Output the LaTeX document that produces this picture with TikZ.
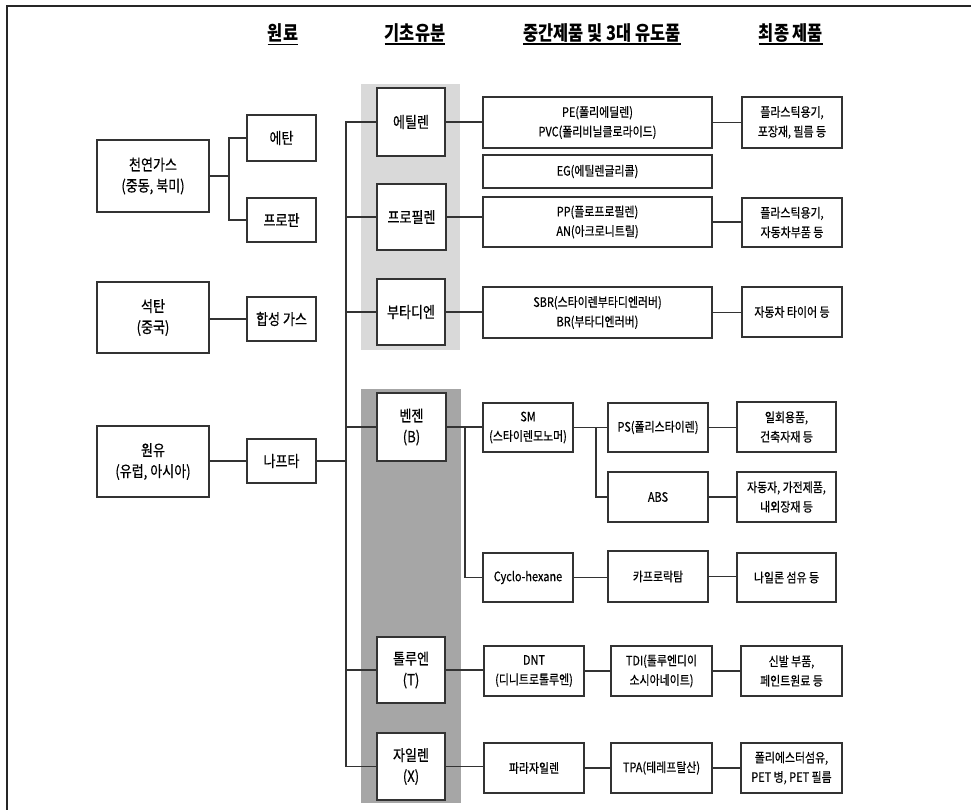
\documentclass[tikz,border=0pt]{standalone}
\usepackage{fontspec}
\setmainfont{Noto Sans CJK KR}[FakeStretch=0.84, FakeBold=0.5]
\newfontfamily\headfont{Noto Sans CJK KR}[FakeStretch=0.82]
\definecolor{bandlight}{HTML}{D9D9D9}
\definecolor{banddark}{HTML}{A6A6A6}
\begin{document}
\begin{tikzpicture}[x=1pt,y=-1pt,
  box/.style={draw=black!80, line width=1.1pt, fill=white, inner sep=0pt, align=center},
  big/.style={box, font=\fontsize{15.5}{21}\selectfont},
  small/.style={box, font=\fontsize{13}{19.5}\selectfont},
  conn/.style={draw=black!80, line width=1.1pt},
  head/.style={font=\headfont\bfseries\fontsize{20}{22}\selectfont, inner sep=0pt},
  uline/.style={line width=1.2pt}]
\useasboundingbox (0,0) rectangle (971,810);
% frame
\draw[line width=1.6pt, black!85] (7,810) -- (7,6) -- (971,6);
% bands
\fill[bandlight] (361,84) rectangle (460,350);
\fill[banddark] (361,389) rectangle (461,803);
% headers
\node[head] (h1) at (283,33) {원료};
\node[head] (h2) at (415,33) {기초유분};
\node[head] (h3) at (602,33) {중간제품 및 3대 유도품};
\node[head] (h4) at (791,33) {최종 제품};
\foreach \h in {h1,h2,h3,h4}
  \draw[uline] ([yshift=-3.5pt]\h.base west) -- ([yshift=-3.5pt]\h.base east);
% column 1
\node[big, minimum width=112, minimum height=72] (ng) at (153,176) {천연가스\\(중동, 북미)};
\node[big, minimum width=112, minimum height=71] (coal) at (153,317.5) {석탄\\(중국)};
\node[big, minimum width=112, minimum height=71] (crude) at (153,461.5) {원유\\(유럽, 아시아)};
% column 2
\node[big, minimum width=69, minimum height=46] (ethane) at (281.5,138) {에탄};
\node[big, minimum width=69, minimum height=44] (propane) at (281.5,220) {프로판};
\node[big, minimum width=69, minimum height=44] (syngas) at (281.5,319) {합성 가스};
\node[big, minimum width=69, minimum height=44] (naphtha) at (281.5,461) {나프타};
% column 3
\node[big, minimum width=68, minimum height=68] (ethylene) at (411,122) {에틸렌};
\node[big, minimum width=69, minimum height=66] (propylene) at (411.5,217) {프로필렌};
\node[big, minimum width=68, minimum height=66] (butadiene) at (411,312) {부타디엔};
\node[big, minimum width=69, minimum height=68] (benzene) at (411.5,427) {벤젠\\(B)};
\node[big, minimum width=68, minimum height=66] (toluene) at (411,670) {톨루엔\\(T)};
\node[big, minimum width=68, minimum height=67] (xylene) at (411,766.5) {자일렌\\(X)};
% column 4 (upper)
\node[small, minimum width=229, minimum height=51] (pe) at (597.5,122.5) {PE(폴리에딜렌)\\PVC(폴리비닐클로라이드)};
\node[small, minimum width=229, minimum height=33] (eg) at (597.5,171.5) {EG(에틸렌글리콜)};
\node[small, minimum width=229, minimum height=50] (pp) at (597.5,222) {PP(플로프로필렌)\\AN(아크로니트릴)};
\node[small, minimum width=229, minimum height=51] (sbr) at (597.5,312.5) {SBR(스타이렌부타디엔러버)\\BR(부타디엔러버)};
% final products (upper)
\node[small, minimum width=100, minimum height=51] (p1) at (792,122.5) {플라스틱용기,\\포장재, 필름 등};
\node[small, minimum width=100, minimum height=49] (p2) at (792,222.5) {플라스틱용기,\\자동차부품 등};
\node[small, minimum width=100, minimum height=50] (p3) at (792,312) {자동차 타이어 등};
% aromatics
\node[small, minimum width=90, minimum height=49] (sm) at (528,427.5) {SM\\(스타이렌모노머)};
\node[small, minimum width=90, minimum height=49] (cyclo) at (528,577.5) {Cyclo-hexane};
\node[small, minimum width=100, minimum height=50] (dnt) at (534,671) {DNT\\(디니트로톨루엔)};
\node[small, minimum width=100, minimum height=50] (para) at (534,768) {파라자일렌};
\node[small, minimum width=100, minimum height=49] (ps) at (658,427.5) {PS(폴리스타이렌)};
\node[small, minimum width=100, minimum height=50] (abs) at (658,497) {ABS};
\node[small, minimum width=100, minimum height=51] (capro) at (658,576.5) {카프로락탐};
\node[small, minimum width=101, minimum height=50] (tdi) at (661.5,671) {TDI(톨루엔디이\\소시아네이트)};
\node[small, minimum width=101, minimum height=50] (tpa) at (661.5,768) {TPA(테레프탈산)};
\node[small, minimum width=99, minimum height=50] (p4) at (786.5,427) {일회용품,\\건축자재 등};
\node[small, minimum width=99, minimum height=50] (p5) at (786.5,497) {자동자, 가전제품,\\내외장재 등};
\node[small, minimum width=99, minimum height=49] (p6) at (786.5,577.5) {나일론 섬유 등};
\node[small, minimum width=101, minimum height=50] (p7) at (791.5,671) {신발 부품,\\페인트원료 등};
\node[small, minimum width=101, minimum height=50] (p8) at (791.5,768) {폴리에스터섬유,\\PET 병, PET 필름};
% helper coordinates
\coordinate (fork) at (229,176);
\coordinate (trunk) at (346,0);
\coordinate (bz) at (465,0);
\coordinate (sp) at (596,0);
% connectors: raw materials
\draw[conn] (ng.east) -- (fork);
\draw[conn] (ethane.west) -| (fork);
\draw[conn] (propane.west) -| (fork);
\draw[conn] (coal.east |- syngas.west) -- (syngas.west);
\draw[conn] (crude.east |- naphtha.west) -- (naphtha.west);
\draw[conn] (naphtha.east) -- (naphtha.east -| trunk);
% trunk
\draw[conn] (ethylene.west) -- (ethylene.west -| trunk) -- (xylene.west -| trunk) -- (xylene.west);
\foreach \n in {propylene,butadiene,benzene,toluene}
  \draw[conn] (\n.west) -- (\n.west -| trunk);
% olefins
\draw[conn] (ethylene.east) -- (ethylene.east -| pe.west);
\draw[conn] (propylene.east) -- (propylene.east -| pp.west);
\draw[conn] (butadiene.east) -- (butadiene.east -| sbr.west);
\draw[conn] (pe.east) -- (pe.east -| p1.west);
\draw[conn] (pp.east) -- (pp.east -| p2.west);
\draw[conn] (sbr.east) -- (sbr.east -| p3.west);
% benzene chain
\draw[conn] (benzene.east) -- (benzene.east -| sm.west);
\draw[conn] (benzene.east -| bz) |- (cyclo.west);
\draw[conn] (sm.east) -- (sm.east -| ps.west);
\draw[conn] (sm.east -| sp) |- (abs.west);
\draw[conn] (ps.east) -- (ps.east -| p4.west);
\draw[conn] (abs.east) -- (abs.east -| p5.west);
\draw[conn] (cyclo.east) -- (cyclo.east -| capro.west);
\draw[conn] (capro.east) -- (capro.east -| p6.west);
% toluene chain
\draw[conn] (toluene.east) -- (toluene.east -| dnt.west);
\draw[conn] (dnt.east) -- (tdi.west);
\draw[conn] (tdi.east) -- (p7.west);
% xylene chain
\draw[conn] (xylene.east) -- (xylene.east -| para.west);
\draw[conn] (para.east) -- (tpa.west);
\draw[conn] (tpa.east) -- (p8.west);
\end{tikzpicture}
\end{document}
